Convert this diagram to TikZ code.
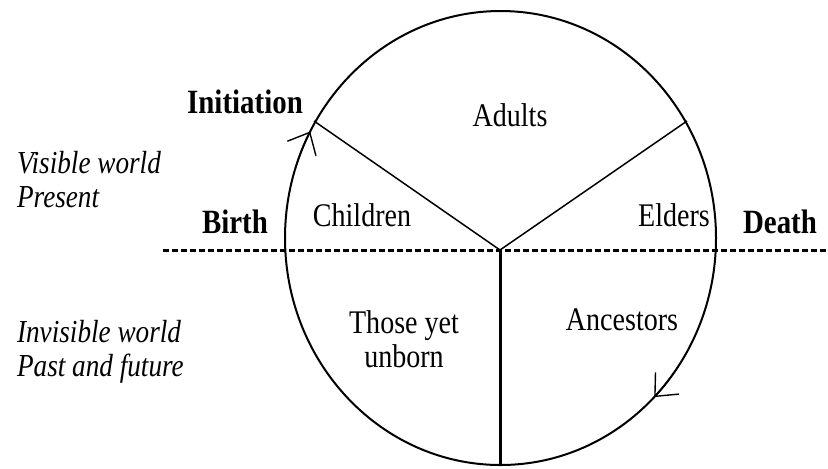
\documentclass[tikz,border=0pt]{standalone}
\usepackage{fontspec}
\setmainfont{Liberation Serif}[FakeStretch=0.85]
\usetikzlibrary{arrows.meta}
\tikzset{
  lbl/.style={font=\fontsize{16.5}{17}\selectfont},
  pass/.style={font=\fontsize{17}{17}\selectfont\bfseries},
  world/.style={font=\fontsize{16}{17}\selectfont\itshape, align=left, anchor=west},
  dotline/.style={line width=1.5pt, dash pattern=on 3pt off 1.5pt},
  turn/.style={line width=0.7pt, arrows={-Straight Barb[length=9pt,width=16pt]}},
}

\begin{document}
\begin{tikzpicture}[x=0.5pt,y=-0.5pt]
                    \useasboundingbox (0,0) rectangle (828,468);
                    \coordinate (cent) at (500.5,238);
                    \coordinate (mid) at (500,250);
                    \coordinate (initpt) at (314,121);
                    \coordinate (deathpt) at (687,121);
                    \coordinate (low) at (500,465);
                    \coordinate (lineleft) at (163,250);
                    \coordinate (lineright) at (828,250);
%                    life circle
                    \draw[line width=1pt] (cent) ellipse [x radius=107.75pt, y radius=113.5pt];
                    \draw[dotline] (lineleft) -- (lineright);
                    \draw[line width=0.75pt] (initpt) -- (mid) -- (deathpt);
                    \draw[line width=1.5pt] (mid) -- (low);
                    \draw[turn] (cent) ++(162:107.75pt and 113.5pt) arc [start angle=162, end angle=152, x radius=107.75pt, y radius=113.5pt];
                    \draw[turn] (cent) ++(-34:107.75pt and 113.5pt) arc [start angle=-34, end angle=-44.5, x radius=107.75pt, y radius=113.5pt];

%                    stages
                    \node[lbl] (adults) at (510,115) {Adults};
                    \node[lbl] (children) at (362,215) {Children};
                    \node[lbl] (elders) at (674,215) {Elders};
                    \node[lbl, align=center] (unborn) at (404,339) {Those yet\\unborn};
                    \node[lbl] (ancestors) at (622,320) {Ancestors};

%                    passages
                    \node[pass] (initiation) at (245,102) {Initiation};
                    \node[pass] (birth) at (235,222) {Birth};
                    \node[pass] (death) at (780,222) {Death};

%                    worlds
                    \node[world] (visible) at (10,180) {Visible world\\Present};
                    \node[world] (invisible) at (10,352) {Invisible world\\Past and future};
                \end{tikzpicture}
\end{document}
